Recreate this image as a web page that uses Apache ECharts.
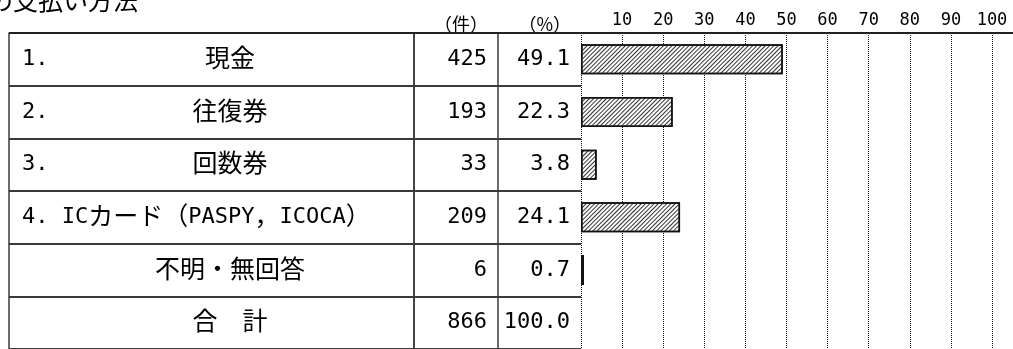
<!DOCTYPE html>
<html>
<head>
<meta charset="utf-8">
<title>支払い方法</title>
<script src="https://cdn.jsdelivr.net/npm/echarts@6/dist/echarts.min.js"></script>
<style>
  html, body { margin: 0; padding: 0; background: #fff; }
  #chart { width: 1013px; height: 349px; }
</style>
</head>
<body>
<div id="chart"></div>
<script>
// 表のデータ
const titleText = 'の支払い方法'
const rowNo = ['1.', '2.', '3.', '4.', '', '']
const items = ['現金', '往復券', '回数券', 'ICカード（PASPY，ICOCA）', '不明・無回答', '合　計']
const counts = [425, 193, 33, 209, 6, 866]
const pcts = [49.1, 22.3, 3.8, 24.1, 0.7, 100.0]
// 棒グラフは合計以外の5行
const barValues = pcts.slice(0, 5)
const unitHeaders = ['（件）', '（%）']

const MONO = '"DejaVu Sans Mono", "Noto Sans CJK JP", sans-serif'
const CJK = '"Noto Sans CJK JP", sans-serif'
const LINE = '#3a3a3a'

// 半角部分と全角部分で書体を分ける
const mixed = (s) => s.replace(/([\x20-\x7e]+)|([^\x20-\x7e]+)/g, (m, a, b) => a ? '{w|' + a + '}' : '{j|' + b + '}')

const rowLabel = (val, i) => {
  if (i === 3) return mixed(rowNo[i] + ' ' + items[i])
  return '{n|' + (rowNo[i] || ' ') + '}{t|' + items[i] + '}'
}

const tok = (extra) => Object.assign({ color: '#000', lineHeight: 30, verticalAlign: 'middle' }, extra)

const initChart = () => {
  const chartDom = document.getElementById('chart')
  if (!chartDom) return
  const myChart = echarts.init(chartDom, null, { renderer: 'canvas' })

  const catAxis = (grid, pos, extra) => Object.assign({
    gridIndex: grid,
    type: 'category',
    inverse: true,
    data: items,
    position: pos,
    axisLine: { show: true, lineStyle: { color: LINE, width: 1.5 } },
    axisTick: { show: false },
    axisLabel: { show: false },
    splitLine: { show: false }
  }, extra)

  const rowLines = { show: true, interval: 0, lineStyle: { color: LINE, width: 2 } }

  const option = {
    animation: false,
    textStyle: { fontFamily: MONO },
    grid: [
      { left: 9, top: 33, width: 405, height: 318 },
      { left: 414, top: 33, width: 84, height: 318 },
      { left: 498, top: 33, width: 83, height: 318 },
      { left: 581, top: 33, width: 411, height: 318 }
    ],
    xAxis: [
      { gridIndex: 0, type: 'value', show: false },
      { gridIndex: 1, type: 'value', show: false },
      { gridIndex: 2, type: 'value', show: false },
      {
        gridIndex: 3,
        type: 'value',
        position: 'top',
        min: 0,
        max: 100,
        interval: 10,
        axisLine: { show: false },
        axisTick: { show: false },
        axisLabel: {
          showMinLabel: false,
          fontSize: 17,
          color: '#000',
          margin: 4,
          fontFamily: MONO
        },
        splitLine: { show: true, lineStyle: { color: '#111', width: 1, type: [1, 1] } }
      }
    ],
    yAxis: [
      catAxis(0, 'left', {
        splitLine: rowLines,
        axisLabel: {
          show: true,
          inside: true,
          interval: 0,
          margin: 13,
          formatter: rowLabel,
          rich: {
            n: tok({ width: 130, align: 'left', fontSize: 22, fontFamily: MONO }),
            t: tok({ width: 156, align: 'center', fontSize: 25, fontFamily: CJK, padding: [0, 0, 4, 0] }),
            w: tok({ fontSize: 22, fontFamily: MONO }),
            j: tok({ fontSize: 25, fontFamily: CJK, padding: [0, 0, 4, 0] })
          }
        }
      }),
      catAxis(0, 'right'),
      catAxis(1, 'right', {
        splitLine: rowLines,
        axisLabel: {
          show: true,
          inside: true,
          interval: 0,
          margin: 11,
          fontSize: 22,
          color: '#000',
          fontFamily: MONO,
          formatter: (v, i) => String(counts[i])
        }
      }),
      catAxis(2, 'right', {
        splitLine: rowLines,
        axisLabel: {
          show: true,
          inside: true,
          interval: 0,
          margin: 11,
          fontSize: 22,
          color: '#000',
          fontFamily: MONO,
          formatter: (v, i) => pcts[i].toFixed(1)
        }
      }),
      catAxis(3, 'left', { axisLine: { show: false } })
    ],
    graphic: [
      {
        type: 'text',
        left: -12,
        top: -12,
        style: { text: titleText, fontSize: 25, fill: '#000', fontFamily: CJK }
      },
      {
        type: 'text',
        x: 488,
        y: 24,
        style: { text: unitHeaders[0], fontSize: 18, fill: '#000', align: 'right', verticalAlign: 'middle', fontFamily: CJK }
      },
      {
        type: 'text',
        x: 571,
        y: 24,
        style: { text: unitHeaders[1], fontSize: 18, fill: '#000', align: 'right', verticalAlign: 'middle', fontFamily: CJK }
      },
      {
        type: 'line',
        shape: { x1: 9, y1: 33, x2: 1013, y2: 33 },
        style: { stroke: '#222', lineWidth: 2 },
        z: 10
      }
    ],
    series: [
      {
        type: 'bar',
        xAxisIndex: 3,
        yAxisIndex: 4,
        data: barValues,
        barWidth: 30,
        itemStyle: {
          color: '#fff',
          borderColor: '#111',
          borderWidth: 1.5,
          decal: {
            symbol: 'rect',
            symbolSize: 1,
            dashArrayX: [1, 0],
            dashArrayY: [1, 2],
            rotation: -Math.PI / 4,
            color: '#333'
          }
        },
        z: 5
      }
    ]
  }
  myChart.setOption(option)

  window.addEventListener('resize', () => {
    myChart.resize()
  })
}

initChart()
</script>
</body>
</html>
